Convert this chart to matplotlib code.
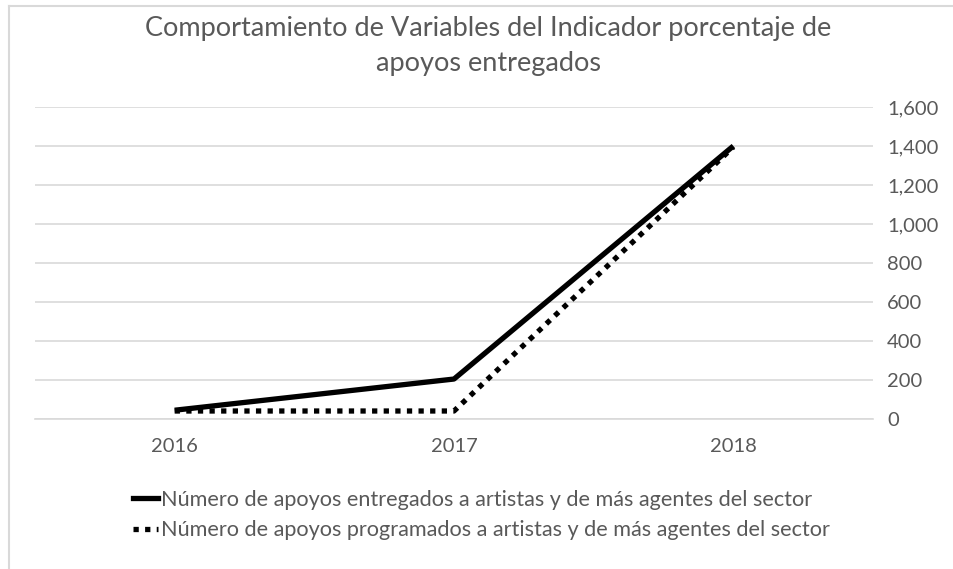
import matplotlib.pyplot as plt
from matplotlib.lines import Line2D

plt.rcParams['font.family'] = ['Lato', 'DejaVu Sans']

# data
years = ['2016', '2017', '2018']
entregados = [45, 205, 1400]
programados = [41, 41, 1395]
labels = ['Número de apoyos entregados a artistas y de más agentes del sector',
          'Número de apoyos programados a artistas y de más agentes del sector']
title = 'Comportamiento de Variables del Indicador porcentaje de\napoyos entregados'

text_col = '#595959'
grid_col = '#d9d9d9'
dots = (0, (1, 1.2))

fig = plt.figure(figsize=(9.54, 5.69), dpi=100)
ax = fig.add_axes([35 / 954, 1 - 419 / 569, 838 / 954, 312 / 569])

x = range(len(years))
ax.plot(x, entregados, color='black', lw=3.8, solid_capstyle='butt', label=labels[0])
ax.plot(x, programados, color='black', lw=3.8, linestyle=dots,
        dash_capstyle='butt', label=labels[1])

ax.set_xlim(-0.5, 2.5)
ax.set_ylim(0, 1600)
ax.set_yticks(range(0, 1601, 200))
ax.set_yticklabels([f'{v:,}' for v in range(0, 1601, 200)])
ax.set_xticks(list(x))
ax.set_xticklabels(years)
ax.yaxis.tick_right()
ax.tick_params(axis='y', length=0, pad=10, labelsize=14.5, labelcolor=text_col)
ax.tick_params(axis='x', length=0, pad=14, labelsize=14.5, labelcolor=text_col)
ax.grid(axis='y', color=grid_col, lw=1.2)
ax.set_axisbelow(True)
for s in ['top', 'left', 'right']:
    ax.spines[s].set_visible(False)
ax.spines['bottom'].set_color(grid_col)
ax.spines['bottom'].set_linewidth(1.2)

fig.text(488 / 954, 1 - 46 / 569, title, ha='center', va='center', fontsize=19.5,
         color=text_col, linespacing=1.5)

handles = [Line2D([], [], color='black', lw=3.8),
           Line2D([], [], color='black', lw=3.8, linestyle=dots, dash_capstyle='butt')]
fig.legend(handles, labels, loc='center left', bbox_to_anchor=(122 / 954, 1 - 515 / 569),
           frameon=False, fontsize=15.6, labelcolor=text_col, handlelength=1.15,
           handletextpad=0.15, labelspacing=0.5, borderpad=0)

# light chart-area border on top and left
fig.add_artist(Line2D([9 / 954, 1], [1 - 6 / 569, 1 - 6 / 569], color='#d9d9d9', lw=1.5))
fig.add_artist(Line2D([9 / 954, 9 / 954], [0, 1 - 6 / 569], color='#d9d9d9', lw=1.5))

fig.savefig('out.png', dpi=100)
